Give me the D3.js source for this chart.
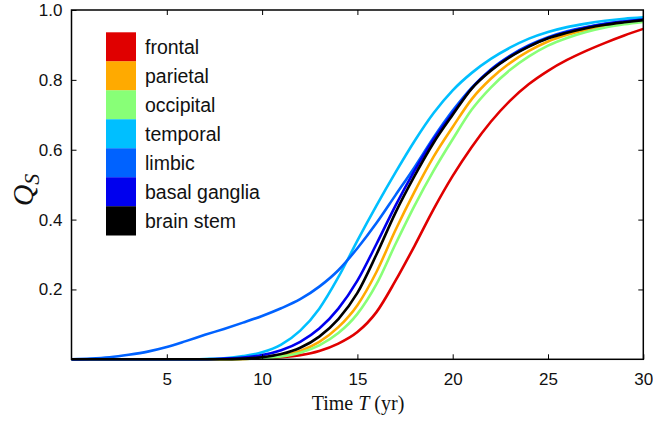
<!DOCTYPE html>
<html>
<head>
<meta charset="utf-8">
<script src="https://cdn.jsdelivr.net/npm/d3@7"></script>
<style>
  body { margin: 0; background: #fff; }
  svg { display: block; }
  .tick text { font-family: "Liberation Sans", Arial, sans-serif; }
</style>
</head>
<body>
<svg id="chart"></svg>
<script>
// time axis (yr)
const years = [0,1,2,3,4,5,6,7,8,9,10,11,12,13,14,15,16,17,18,19,20,21,22,23,24,25,26,27,28,29,30];

const regions = ['frontal','parietal','occipital','temporal','limbic','basal ganglia','brain stem'];
const colors = ['#e00000','#ffaa00','#88ff77','#00bfff','#0062ff','#0000ee','#000000'];

// Q_S per region
const frontal   = [0,0,0,0,0,0,0,0,0,0.001,0.003,0.006,0.012,0.024,0.045,0.078,0.135,0.225,0.325,0.43,0.525,0.608,0.68,0.74,0.788,0.826,0.857,0.883,0.906,0.927,0.946];
const parietal  = [0,0,0,0,0,0,0,0,0,0.001,0.004,0.01,0.024,0.05,0.092,0.155,0.25,0.37,0.48,0.58,0.665,0.745,0.803,0.848,0.883,0.91,0.929,0.943,0.954,0.962,0.969];
const occipital = [0,0,0,0,0,0,0,0,0,0.001,0.003,0.008,0.019,0.04,0.075,0.13,0.215,0.33,0.44,0.54,0.63,0.715,0.778,0.828,0.867,0.898,0.92,0.937,0.95,0.959,0.966];
const temporal  = [0,0,0,0,0,0,0,0.001,0.003,0.009,0.02,0.042,0.082,0.145,0.235,0.34,0.44,0.535,0.625,0.705,0.77,0.82,0.86,0.892,0.918,0.937,0.951,0.961,0.969,0.975,0.979];
const limbic    = [0,0.002,0.006,0.013,0.022,0.035,0.052,0.07,0.087,0.105,0.124,0.146,0.172,0.208,0.255,0.318,0.39,0.47,0.55,0.635,0.712,0.778,0.83,0.869,0.899,0.922,0.939,0.951,0.961,0.968,0.973];
const basal     = [0,0,0,0,0,0,0,0,0.002,0.005,0.012,0.026,0.05,0.088,0.145,0.225,0.33,0.44,0.54,0.63,0.705,0.776,0.828,0.867,0.897,0.92,0.937,0.95,0.96,0.967,0.973];
const stem      = [0,0,0,0,0,0,0,0,0,0.002,0.006,0.015,0.033,0.065,0.115,0.19,0.3,0.42,0.525,0.62,0.7,0.775,0.826,0.865,0.895,0.919,0.935,0.948,0.958,0.965,0.971];

const series = [frontal, parietal, occipital, temporal, limbic, basal, stem];

const xTicks = [5,10,15,20,25,30];
const yTicks = [0.2,0.4,0.6,0.8,1.0];

const width = 653, height = 424;
const margin = {top: 10, right: 10, bottom: 65, left: 71.5};
const w = 643.3 - margin.left, h = 359.3 - margin.top;

const svg = d3.select('#chart').attr('width', width).attr('height', height);
const g = svg.append('g').attr('transform', 'translate(' + margin.left + ',' + margin.top + ')');

const x = d3.scaleLinear().domain([0,30]).range([0,w]);
const y = d3.scaleLinear().domain([0,1]).range([h,0]);

const line = d3.line()
    .x((d,i) => x(years[i]))
    .y(d => y(d))
    .curve(d3.curveMonotoneX);

g.selectAll('path.curve').data(series).enter().append('path')
    .attr('class','curve')
    .attr('d', d => line(d))
    .attr('fill','none')
    .attr('stroke', (d,i) => colors[i])
    .attr('stroke-width', 2.6);

// axes, ticks pointing inward
const styleAxis = sel => {
    sel.select('.domain').remove();
    sel.selectAll('.tick line').attr('stroke','#000').attr('stroke-width',1);
    sel.selectAll('.tick text').attr('font-size',17).attr('fill','#111');
};
g.append('g').attr('transform','translate(0,' + h + ')')
    .call(d3.axisBottom(x).tickValues(xTicks).tickSizeInner(-5).tickPadding(14))
    .call(styleAxis);
g.append('g')
    .call(d3.axisLeft(y).tickValues(yTicks).tickFormat(d3.format('.1f')).tickSizeInner(-5).tickPadding(9))
    .call(styleAxis);
g.append('g')
    .call(d3.axisTop(x).tickValues(xTicks.slice(0,5)).tickSizeInner(-5).tickFormat(''))
    .call(styleAxis);
g.append('g').attr('transform','translate(' + w + ',0)')
    .call(d3.axisRight(y).tickValues(yTicks.slice(0,4)).tickSizeInner(-5).tickFormat(''))
    .call(styleAxis);

g.append('rect').attr('width', w).attr('height', h)
    .attr('fill','none').attr('stroke','#000').attr('stroke-width',1.5);

// legend
const legend = g.append('g').attr('transform','translate(' + (106 - margin.left) + ',' + (32.3 - margin.top) + ')');
const item = legend.selectAll('g').data(regions).enter().append('g')
    .attr('transform', (d,i) => 'translate(0,' + (i*29) + ')');
item.append('rect').attr('width',30).attr('height',29.2).attr('fill',(d,i) => colors[i]);
item.append('text').attr('x',39).attr('y',15).attr('dy','0.35em')
    .attr('font-family','"Liberation Sans", Arial, sans-serif').attr('font-size',19.5).attr('fill','#111')
    .text(d => d);

// axis titles
const xt = svg.append('text').attr('x', 358).attr('y', 410).attr('text-anchor','middle')
    .attr('font-family','"Liberation Serif", "Times New Roman", serif').attr('font-size',20).attr('fill','#111');
xt.append('tspan').text('Time ');
xt.append('tspan').attr('font-style','italic').text('T');
xt.append('tspan').text(' (yr)');

const yt = svg.append('text').attr('transform','translate(33,190) rotate(-90)').attr('text-anchor','middle')
    .attr('font-family','"Liberation Serif", "Times New Roman", serif').attr('font-size',30).attr('font-style','italic').attr('fill','#111');
yt.append('tspan').text('Q');
yt.append('tspan').attr('font-size',22).attr('dy',6).text('S');
</script>
</body>
</html>
